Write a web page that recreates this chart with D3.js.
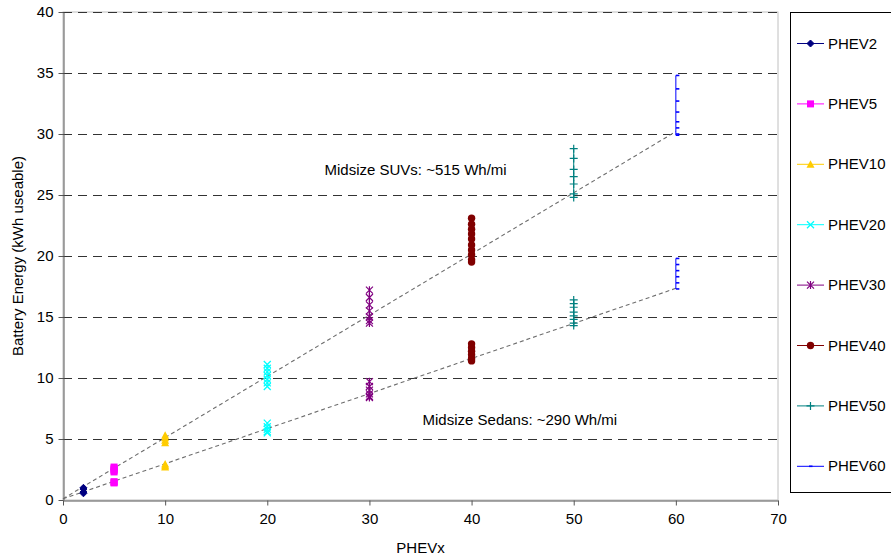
<!DOCTYPE html>
<html><head><meta charset="utf-8">
<script src="https://cdn.jsdelivr.net/npm/d3@7"></script>
<style>body{margin:0;background:#fff}svg{display:block;font-family:"Liberation Sans",Arial,sans-serif}</style>
</head><body><svg id="c" width="891" height="559"></svg>
<script>
const seriesNames = ["PHEV2","PHEV5","PHEV10","PHEV20","PHEV30","PHEV40","PHEV50","PHEV60"];
const seriesX = [2,5,10,20,30,40,50,60];
const suvValues = [
  [1.0,0.9],
  [2.7,2.6,2.5,2.4,2.3],
  [5.3,5.1,4.9,4.7],
  [11.1,10.8,10.5,10.2,9.9,9.6,9.3],
  [17.2,16.6,16.0,15.5,15.0,14.7,14.5],
  [23.1,22.6,22.2,21.8,21.4,20.9,20.5,20.1,19.7,19.5],
  [28.8,28.0,27.1,26.5,25.9,25.1,24.8],
  [34.8,33.7,32.7,31.8,31.0,30.5,30.0,29.9]
];
const sedanValues = [
  [0.65,0.55],
  [1.5,1.45,1.4],
  [2.95,2.8,2.7],
  [6.3,6.0,5.8,5.6,5.5],
  [9.7,9.3,9.0,8.7,8.5,8.4],
  [12.8,12.5,12.2,11.9,11.6,11.4],
  [16.4,16.1,15.8,15.4,15.1,14.8,14.5,14.3],
  [19.8,19.3,18.8,18.3,17.8,17.3]
];
const trendSUV = [[0,0.1],[60,30.2]];
const trendSedan = [[0,0.1],[60,17.35]];
const xTicks = [0,10,20,30,40,50,60,70];
const yTicks = [0,5,10,15,20,25,30,35,40];
const annotations = [
  {text:"Midsize SUVs: ~515 Wh/mi", x:25.6, y:26.6},
  {text:"Midsize Sedans: ~290 Wh/mi", x:35.2, y:6.15}
];

const colors = ["#000080","#FF00FF","#FFCC00","#00FFFF","#800080","#800000","#008080","#0000FF"];
const shapes = ["diamond","square","triangle","x","star","circle","plus","dash"];
const FS = 15;

const svg = d3.select("#c");
const x = d3.scaleLinear().domain([0,70]).range([63,778]);
const y = d3.scaleLinear().domain([0,40]).range([500,12]);

// plot border
svg.append("rect").attr("x",x(0)).attr("y",y(40)).attr("width",x(70)-x(0)).attr("height",y(0)-y(40))
  .attr("fill","#fff").attr("stroke","#c0c0c0").attr("stroke-width",1);

// gridlines
svg.append("g").selectAll("line").data(yTicks.filter(d=>d>0)).join("line")
  .attr("x1",x(0)).attr("x2",x(70)).attr("y1",d=>Math.round(y(d))+0.5).attr("y2",d=>Math.round(y(d))+0.5)
  .attr("stroke","#333").attr("stroke-dasharray","9,6").attr("stroke-width",1);

// axes
const yAxis = svg.append("g").attr("transform",`translate(${x(0)+0.5},0)`)
  .call(d3.axisLeft(y).tickValues(yTicks).tickSize(5).tickSizeOuter(0).tickPadding(5));
const xAxis = svg.append("g").attr("transform",`translate(0,${Math.round(y(0))+0.5})`)
  .call(d3.axisBottom(x).tickValues(xTicks).tickSize(5).tickSizeOuter(0).tickPadding(8));
[yAxis,xAxis].forEach(a=>{
  a.select(".domain").attr("stroke","#555");
  a.selectAll(".tick line").attr("stroke","#555");
  a.selectAll("text").attr("font-size",FS).attr("fill","#000").attr("font-family","Liberation Sans, Arial, sans-serif");
});

// trend lines
const lineGen = d3.line().x(d=>x(d[0])).y(d=>y(d[1]));
[trendSUV,trendSedan].forEach(t=>{
  svg.append("path").attr("d",lineGen(t)).attr("fill","none").attr("stroke","#6e6e6e")
    .attr("stroke-width",1.1).attr("stroke-dasharray","4,3");
});

function marker(g, shape, color, cx, cy){
  const s = 3.5;
  if(shape==="diamond"){
    g.append("path").attr("d",`M${cx},${cy-s}L${cx+s},${cy}L${cx},${cy+s}L${cx-s},${cy}Z`).attr("fill",color).attr("stroke",color);
  } else if(shape==="square"){
    g.append("rect").attr("x",cx-3.5).attr("y",cy-3.5).attr("width",7).attr("height",7).attr("fill",color);
  } else if(shape==="triangle"){
    g.append("path").attr("d",`M${cx},${cy-4}L${cx+4},${cy+3.5}L${cx-4},${cy+3.5}Z`).attr("fill",color);
  } else if(shape==="x"){
    g.append("path").attr("d",`M${cx-3.5},${cy-3.5}L${cx+3.5},${cy+3.5}M${cx-3.5},${cy+3.5}L${cx+3.5},${cy-3.5}`).attr("stroke",color).attr("stroke-width",1.3);
  } else if(shape==="star"){
    g.append("path").attr("d",`M${cx-3.5},${cy-3.5}L${cx+3.5},${cy+3.5}M${cx-3.5},${cy+3.5}L${cx+3.5},${cy-3.5}M${cx},${cy-4}L${cx},${cy+4}`).attr("stroke",color).attr("stroke-width",1.2);
  } else if(shape==="circle"){
    g.append("circle").attr("cx",cx).attr("cy",cy).attr("r",3.7).attr("fill",color);
  } else if(shape==="plus"){
    g.append("path").attr("d",`M${cx-4},${cy}L${cx+4},${cy}M${cx},${cy-4}L${cx},${cy+4}`).attr("stroke",color).attr("stroke-width",1.2);
  } else if(shape==="dash"){
    g.append("path").attr("d",`M${cx},${cy}L${cx+3.5},${cy}`).attr("stroke",color).attr("stroke-width",1.6);
  }
}

// series
seriesNames.forEach((name,i)=>{
  const g = svg.append("g");
  [suvValues[i],sedanValues[i]].forEach(vals=>{
    const pts = vals.map(v=>[seriesX[i],v]);
    g.append("path").attr("d",lineGen(pts)).attr("fill","none").attr("stroke",colors[i]).attr("stroke-width",1);
    pts.forEach(p=>marker(g,shapes[i],colors[i],x(p[0]),y(p[1])));
  });
});

// annotations
svg.append("g").selectAll("text").data(annotations).join("text")
  .attr("x",d=>x(d.x)).attr("y",d=>y(d.y)).attr("font-size",FS).attr("fill","#000").text(d=>d.text);

// axis titles
svg.append("text").attr("x",x(35)).attr("y",553).attr("text-anchor","middle").attr("font-size",FS).text("PHEVx");
svg.append("text").attr("transform",`translate(23,${y(20)}) rotate(-90)`).attr("text-anchor","middle").attr("font-size",FS).text("Battery Energy (kWh useable)");

// legend
const lg = svg.append("g");
lg.append("rect").attr("x",790.5).attr("y",12.5).attr("width",120).attr("height",480).attr("fill","#fff").attr("stroke","#000").attr("stroke-width",1);
seriesNames.forEach((name,i)=>{
  const ly = 43.5 + i*60.4;
  lg.append("line").attr("x1",797).attr("x2",824).attr("y1",ly).attr("y2",ly).attr("stroke",colors[i]).attr("stroke-width",1);
  marker(lg,shapes[i],colors[i],shapes[i]==="dash"?809:810.5,ly);
  lg.append("text").attr("x",828).attr("y",ly+5).attr("font-size",FS).text(name);
});
</script></body></html>
